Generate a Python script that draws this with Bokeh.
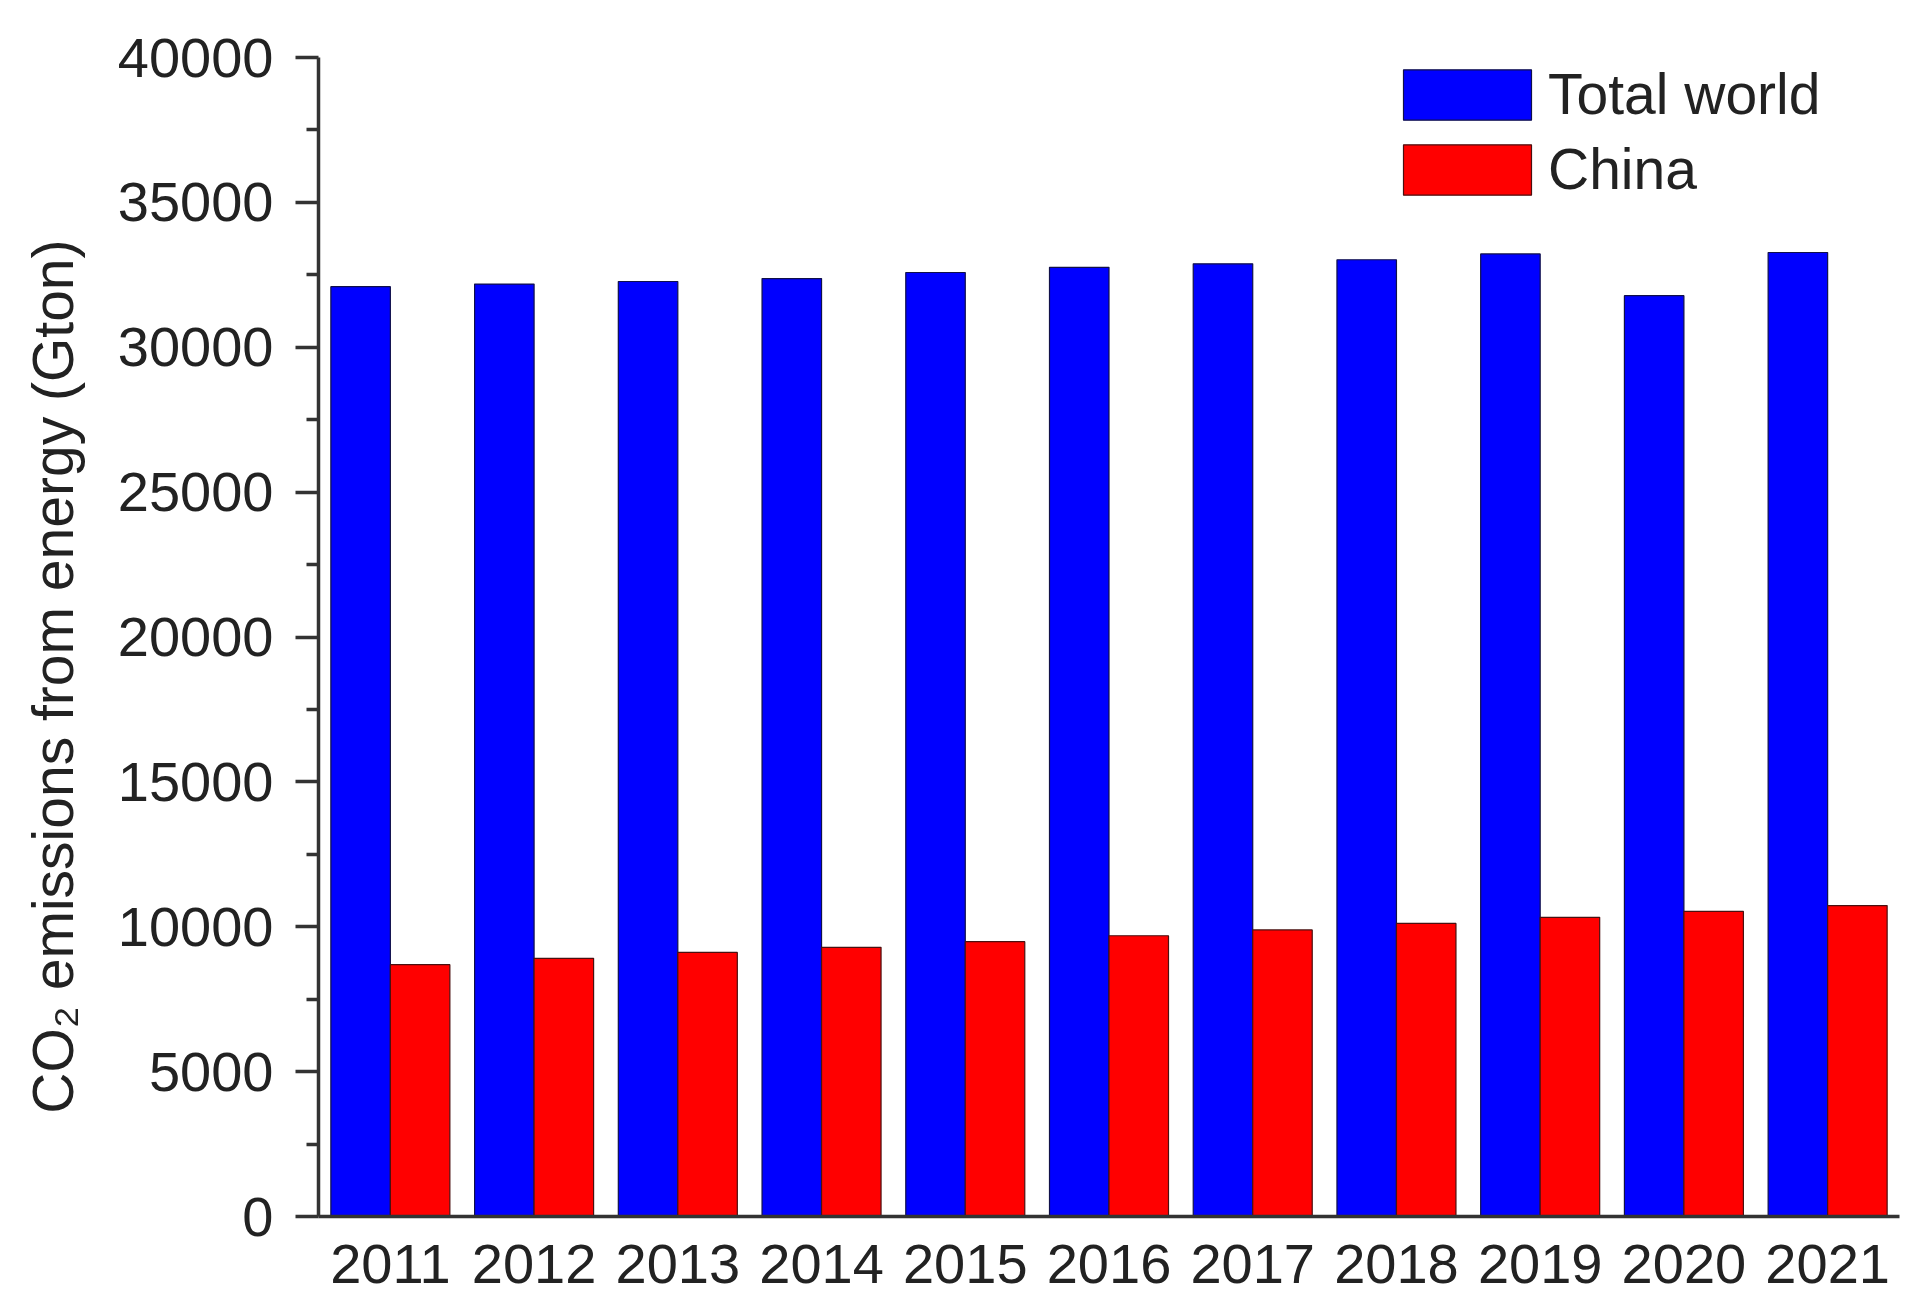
import numpy as np
from bokeh.plotting import figure
from bokeh.models import Range1d, ColumnDataSource, Legend, LegendItem, FixedTicker
from bokeh.transform import dodge
from bokeh.embed import file_html
from bokeh.resources import INLINE

years = ["2011", "2012", "2013", "2014", "2015", "2016", "2017", "2018", "2019", "2020", "2021"]
total_world = [32090, 32180, 32270, 32370, 32580, 32760, 32880, 33020, 33220, 31780, 33270]
china = [8690, 8910, 9115, 9290, 9485, 9690, 9890, 10115, 10325, 10530, 10730]
y_ticks = [0, 5000, 10000, 15000, 20000, 25000, 30000, 35000, 40000]
y_minor = [2500, 7500, 12500, 17500, 22500, 27500, 32500, 37500]
y_label = "CO\u2082 emissions from energy (Gton)"

idx = list(range(len(years)))
src = ColumnDataSource(dict(x=idx, world=total_world, china=china))

FONT = "Liberation Sans"
TXT = "#222222"
AX = "#333333"

p = figure(width=1929, height=1315, output_backend="svg", toolbar_location=None,
           x_range=Range1d(-0.5, 10.5), y_range=Range1d(0, 40000),
           min_border_left=318, min_border_right=30, min_border_top=57, min_border_bottom=99)

BW = 0.414
r1 = p.vbar(x=dodge("x", -BW / 2, range=p.x_range), top="world", width=BW, source=src,
            fill_color="#0000ff", line_color="#10104a", line_width=1.2)
r2 = p.vbar(x=dodge("x", BW / 2, range=p.x_range), top="china", width=BW, source=src,
            fill_color="#ff0000", line_color="#4a1010", line_width=1.2)

p.xgrid.visible = False
p.ygrid.visible = False
p.outline_line_color = None
p.background_fill_color = "white"
p.border_fill_color = "white"

xa = p.xaxis[0]
xa.ticker = FixedTicker(ticks=idx)
xa.major_label_overrides = {i: y for i, y in zip(idx, years)}
xa.major_tick_line_color = None
xa.minor_tick_line_color = None
xa.major_tick_out = 0
xa.major_tick_in = 0
xa.major_label_standoff = 28
xa.axis_line_width = 3.5
xa.axis_line_color = AX
xa.major_label_text_font = FONT
xa.major_label_text_font_size = "56px"
xa.major_label_text_color = TXT

ya = p.yaxis[0]
ya.ticker = FixedTicker(ticks=y_ticks, minor_ticks=y_minor)
ya.major_tick_out = 23
ya.major_tick_in = 0
ya.minor_tick_out = 12
ya.minor_tick_in = 0
ya.major_tick_line_width = 3.5
ya.minor_tick_line_width = 3.5
ya.major_tick_line_color = AX
ya.minor_tick_line_color = AX
ya.axis_line_width = 3.5
ya.axis_line_color = AX
ya.major_label_standoff = 22
ya.major_label_text_font = FONT
ya.major_label_text_font_size = "56px"
ya.major_label_text_color = TXT
# trailing no-break spaces shift the title slightly below the frame centre, as in the reference
ya.axis_label = y_label + "\u00a0" * 5
ya.axis_label_text_font = FONT
ya.axis_label_text_font_size = "57px"
ya.axis_label_text_font_style = "normal"
ya.axis_label_text_color = TXT
ya.axis_label_standoff = 30

legend = Legend(items=[LegendItem(label="Total world", renderers=[r1]),
                       LegendItem(label="China", renderers=[r2])],
                location=(1069, 1014), padding=0, margin=0, spacing=9,
                glyph_width=160, glyph_height=63, label_height=63, label_standoff=1,
                label_text_font=FONT, label_text_font_size="57px", label_text_color=TXT,
                border_line_color=None, background_fill_alpha=0)
p.add_layout(legend, "center")

open("out.html", "w").write(file_html(p, INLINE))
